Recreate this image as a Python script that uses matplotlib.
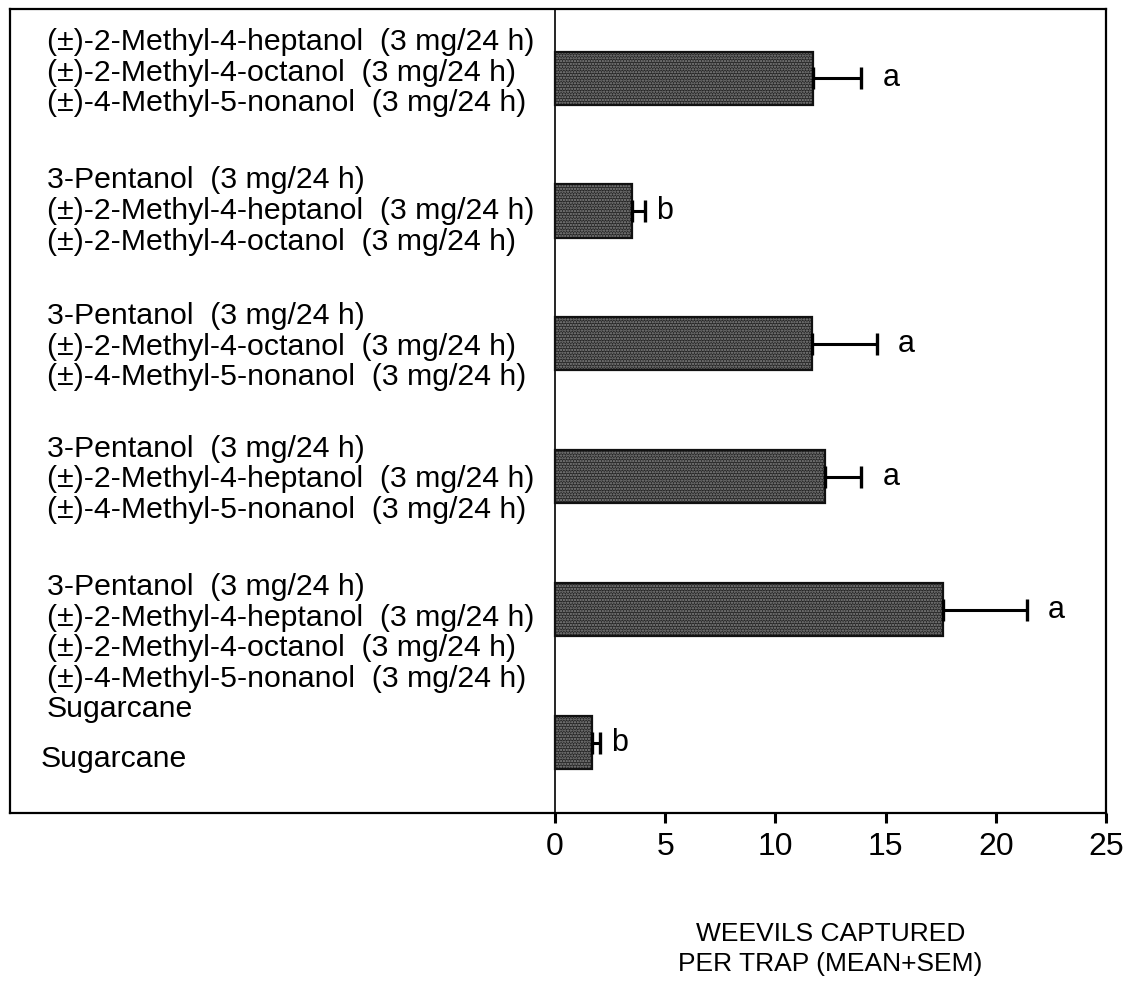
import matplotlib
matplotlib.use("Agg")
import matplotlib.pyplot as plt
from matplotlib.transforms import blended_transform_factory

plt.rcParams['font.family'] = ['Liberation Sans', 'DejaVu Sans']

# Treatments (top to bottom), mean captures, SEM and significance letters
treatments = [
    "(±)-2-Methyl-4-heptanol  (3 mg/24 h)\n(±)-2-Methyl-4-octanol  (3 mg/24 h)\n(±)-4-Methyl-5-nonanol  (3 mg/24 h)",
    "3-Pentanol  (3 mg/24 h)\n(±)-2-Methyl-4-heptanol  (3 mg/24 h)\n(±)-2-Methyl-4-octanol  (3 mg/24 h)",
    "3-Pentanol  (3 mg/24 h)\n(±)-2-Methyl-4-octanol  (3 mg/24 h)\n(±)-4-Methyl-5-nonanol  (3 mg/24 h)",
    "3-Pentanol  (3 mg/24 h)\n(±)-2-Methyl-4-heptanol  (3 mg/24 h)\n(±)-4-Methyl-5-nonanol  (3 mg/24 h)",
    "3-Pentanol  (3 mg/24 h)\n(±)-2-Methyl-4-heptanol  (3 mg/24 h)\n(±)-2-Methyl-4-octanol  (3 mg/24 h)\n(±)-4-Methyl-5-nonanol  (3 mg/24 h)\nSugarcane",
    "Sugarcane",
]
means = [11.7, 3.5, 11.65, 12.25, 17.6, 1.7]
sems = [2.2, 0.6, 2.95, 1.65, 3.8, 0.35]
letters = ["a", "b", "a", "a", "a", "b"]
xticks = [0, 5, 10, 15, 20, 25]
xlabel = "WEEVILS CAPTURED\nPER TRAP (MEAN+SEM)"

W, H = 1134, 992
fig = plt.figure(figsize=(W / 100, H / 100), dpi=100)
left_px, right_px, top_px, bot_px = 10, 1106, 9, 813
ax = fig.add_axes([left_px / W, 1 - bot_px / H,
                   (right_px - left_px) / W, (bot_px - top_px) / H])

zero_px = 555
units_per_px = 25 / (right_px - zero_px)
ax.set_xlim(-(zero_px - left_px) * units_per_px, 25)
ax.set_ylim(5.53, -0.52)

pos = list(range(len(means)))
bar_h = 0.4

# dark stippled bars
ax.barh(pos, means, height=bar_h, color="#262626", edgecolor="none", zorder=2)
plt.rcParams['hatch.linewidth'] = 1.1
ax.barh(pos, means, height=bar_h, color="none", edgecolor="#8a8a8a",
        hatch="......", linewidth=0, zorder=3)
ax.barh(pos, means, height=bar_h, color="none", edgecolor="#111111",
        linewidth=1.6, zorder=4)

ax.errorbar(means, pos, xerr=[[0] * len(sems), sems], fmt="none",
            ecolor="black", elinewidth=2.2, capsize=8, capthick=2.4, zorder=5)

for y, m, s, lt in zip(pos, means, sems, letters):
    off = 0.95 if lt == "a" else 0.5
    ax.text(m + s + off, y, lt, ha="left", va="center", fontsize=22)

# treatment labels on the left panel
label_dy = [-0.04, 0.0, 0.02, 0.02, 0.29, 0.12]
span = right_px - left_px
label_x = [(47 - left_px) / span] * 5 + [(41 - left_px) / span]
trans = blended_transform_factory(ax.transAxes, ax.transData)
for y, txt, dy, lx in zip(pos, treatments, label_dy, label_x):
    ax.text(lx, y + dy, txt, transform=trans, ha="left", va="center",
            fontsize=21.8, linespacing=1.12)

ax.axvline(0, color="black", linewidth=1.2, zorder=1)

for sp in ax.spines.values():
    sp.set_linewidth(1.6)
ax.set_yticks([])
ax.set_xticks(xticks)
ax.set_xticklabels([str(t) for t in xticks], fontsize=23)
ax.tick_params(axis="x", direction="out", length=7, width=2.2, pad=7)

fig.text((zero_px + right_px) / 2 / W, 1 - 949 / H, xlabel, ha="center",
         va="center", fontsize=19, linespacing=1.3)

fig.savefig("out.png", dpi=100)
